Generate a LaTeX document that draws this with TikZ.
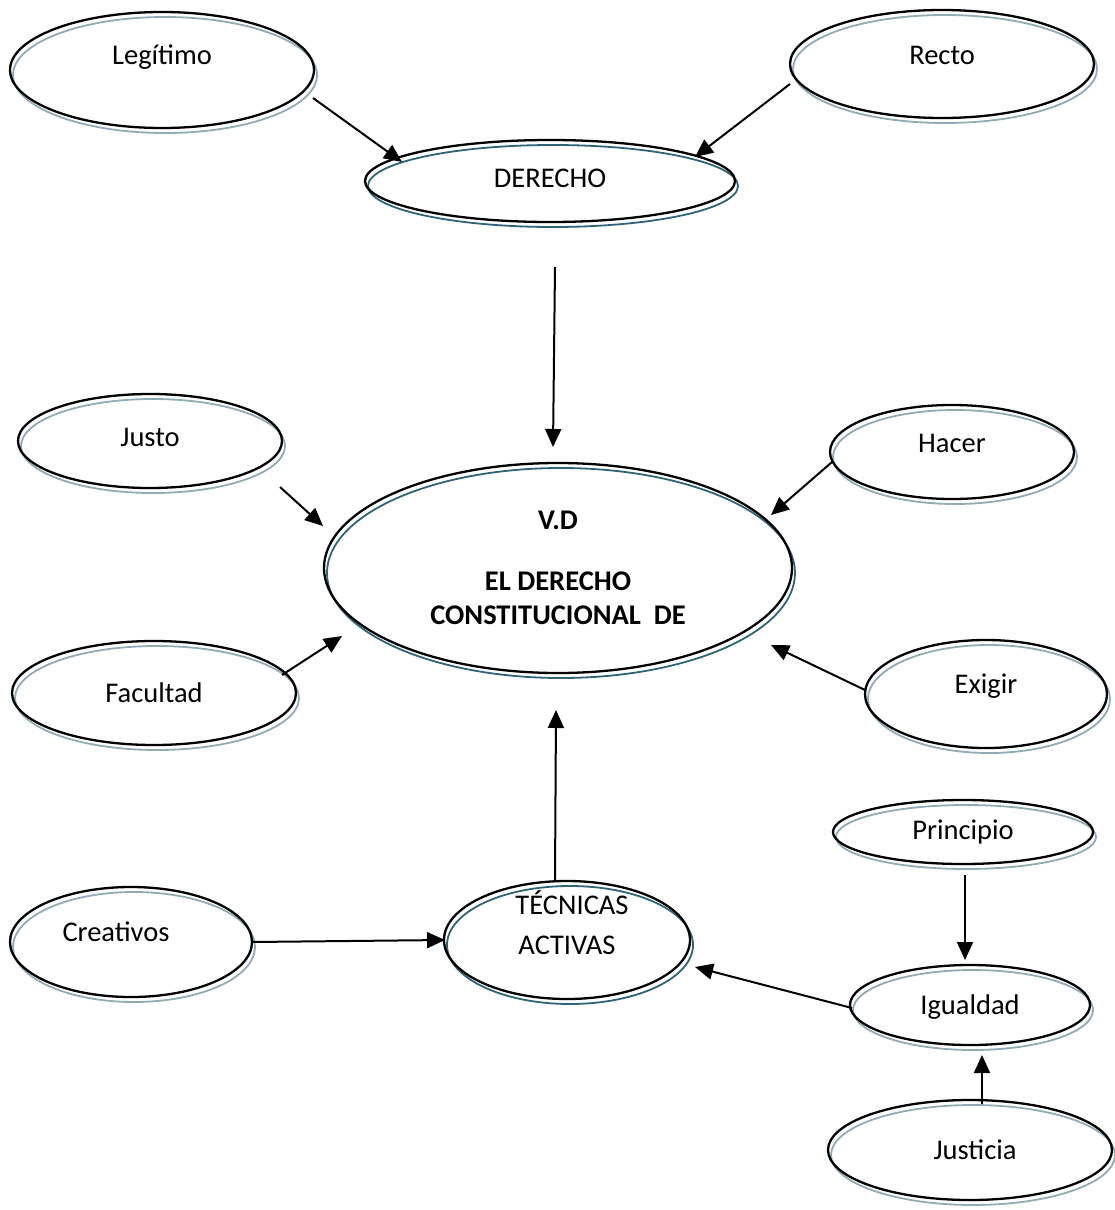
\documentclass[tikz,border=0pt]{standalone}
\usepackage{fontspec}
\setmainfont{Carlito}
\usetikzlibrary{arrows.meta,shapes.geometric}
\definecolor{shlight}{HTML}{8FABB5}
\definecolor{shdark}{HTML}{2E6478}
\newcommand{\ctext}[3]{\raisebox{#2}[0pt][0pt]{\makebox[0pt]{\hspace*{#1}#3}}}
\tikzset{
  conceptbase/.style={ellipse, draw=black, line width=2.3pt, inner sep=0pt,
    font=\fontsize{28.5}{34}\selectfont},
  concept/.style={conceptbase,
    preaction={draw=shlight, line width=1.8pt, transform canvas={shift={(3,5)}}}},
  keyconcept/.style={conceptbase,
    preaction={draw=shdark, line width=1.8pt, transform canvas={shift={(3,5)}}}},
  arr/.style={line width=2pt, -{Triangle[length=18pt,width=16pt]}}
}
\begin{document}
\begin{tikzpicture}[x=1pt,y=-1pt]
\useasboundingbox[fill=white] (0,0) rectangle (1115,1210);
\node[concept, minimum width=304, minimum height=116] (legit) at (162,70) {\ctext{0pt}{6pt}{Legítimo}};
\node[concept, minimum width=304, minimum height=108] (recto) at (942,64) {\ctext{0pt}{0pt}{Recto}};
\node[keyconcept, minimum width=370, minimum height=82] (derecho) at (550,181) {\ctext{0pt}{-6pt}{DERECHO}};
\node[concept, minimum width=264, minimum height=94] (justo) at (150,441) {\ctext{0pt}{-5pt}{Justo}};
\node[concept, minimum width=244, minimum height=94] (hacer) at (952,452) {\ctext{0pt}{0pt}{Hacer}};
\node[keyconcept, minimum width=468, minimum height=210, align=center] (vd) at (558,568)
  {\textbf{V.D}\\[27pt]\textbf{EL DERECHO}\\\textbf{CONSTITUCIONAL\ \ DE}};
\node[concept, minimum width=284, minimum height=104] (facultad) at (154,693) {\ctext{0pt}{-9pt}{Facultad}};
\node[concept, minimum width=242, minimum height=108] (exigir) at (986,694) {\ctext{0pt}{1pt}{Exigir}};
\node[concept, minimum width=260, minimum height=64] (principio) at (963,832) {\ctext{0pt}{-7pt}{Principio}};
\node[keyconcept, minimum width=246, minimum height=118] (tecnicas) at (567,940)
  {\raisebox{6pt}[0pt][0pt]{\begin{tabular}{@{}c@{}}\hspace*{10pt}TÉCNICAS\\[6pt]ACTIVAS\end{tabular}}};
\node[concept, minimum width=242, minimum height=110] (creativos) at (131,942) {\ctext{-30pt}{1pt}{Creativos}};
\node[concept, minimum width=240, minimum height=80] (igualdad) at (970,1005) {\ctext{0pt}{-9pt}{Igualdad}};
\node[concept, minimum width=284, minimum height=100] (justicia) at (970,1150) {\ctext{10pt}{-9pt}{Justicia}};
\draw[arr] ([shift={(151,28)}]legit.center) -- ([shift={(-148,-19)}]derecho.center);
\draw[arr] ([shift={(-152,20)}]recto.center) -- ([shift={(145,-24)}]derecho.center);
\draw[arr] ([shift={(5,86)}]derecho.center) -- ([shift={(-5,-121)}]vd.center);
\draw[arr] ([shift={(130,46)}]justo.center) -- ([shift={(-235,-42)}]vd.center);
\draw[arr] ([shift={(-120,10)}]hacer.center) -- ([shift={(213,-53)}]vd.center);
\draw[arr] ([shift={(128,-18)}]facultad.center) -- ([shift={(-216,68)}]vd.center);
\draw[arr] ([shift={(-121,-4)}]exigir.center) -- ([shift={(213,77)}]vd.center);
\draw[arr] ([shift={(-12,-60)}]tecnicas.center) -- ([shift={(-2,142)}]vd.center);
\draw[arr] ([shift={(121,0)}]creativos.center) -- ([shift={(-122,0)}]tecnicas.center);
\draw[arr] ([shift={(2,43)}]principio.center) -- ([shift={(-5,-45)}]igualdad.center);
\draw[arr] ([shift={(-118,3)}]igualdad.center) -- ([shift={(128,27)}]tecnicas.center);
\draw[arr] ([shift={(12,-46)}]justicia.center) -- ([shift={(12,50)}]igualdad.center);
\end{tikzpicture}
\end{document}
